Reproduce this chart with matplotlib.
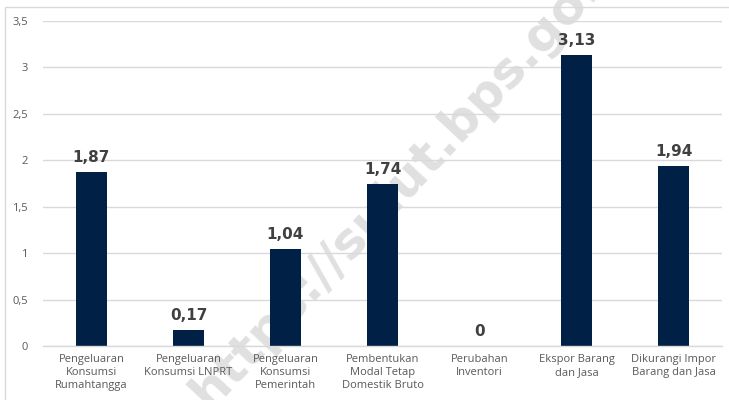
import matplotlib
matplotlib.use("Agg")
import matplotlib.pyplot as plt
from matplotlib.patches import Rectangle

categories = [
    "Pengeluaran\nKonsumsi\nRumahtangga",
    "Pengeluaran\nKonsumsi LNPRT",
    "Pengeluaran\nKonsumsi\nPemerintah",
    "Pembentukan\nModal Tetap\nDomestik Bruto",
    "Perubahan\nInventori",
    "Ekspor Barang\ndan Jasa",
    "Dikurangi Impor\nBarang dan Jasa",
]
values = [1.87, 0.17, 1.04, 1.74, 0.0, 3.13, 1.94]
yticks = [0, 0.5, 1, 1.5, 2, 2.5, 3, 3.5]
ytick_labels = ["0", "0,5", "1", "1,5", "2", "2,5", "3", "3,5"]
value_labels = ["1,87", "0,17", "1,04", "1,74", "0", "3,13", "1,94"]

bar_color = "#012046"
grid_color = "#d9d9d9"

fig = plt.figure(figsize=(7.29, 4.0), dpi=100)
ax = fig.add_axes([43 / 729, 54 / 400, (722 - 43) / 729, (346 - 21) / 400])
ax.patch.set_visible(False)

# outer frame of the chart area
fig.patches.append(Rectangle((5 / 729, -0.1), 1.2, (400 - 7) / 400 + 0.1,
                             transform=fig.transFigure, fill=False,
                             edgecolor=grid_color, linewidth=1.0))

# watermark, drawn beneath the axes content
fig.text(0.5675, 0.575, "https://sulut.bps.go.id",
         rotation=47, rotation_mode="anchor", ha="center", va="center",
         fontsize=36, fontweight="bold", color="#e0e0e0",
         family="DejaVu Sans", zorder=-1)

x = range(len(categories))
bars = ax.bar(x, values, width=0.31, color=bar_color, zorder=2)

for i, (v, lab) in enumerate(zip(values, value_labels)):
    ax.annotate(lab, (i, v), xytext=(0, 5), textcoords="offset points",
                ha="center", va="bottom", fontsize=11, fontweight="bold",
                color="#404040", family="DejaVu Sans", zorder=3)

ax.set_xlim(-0.5, len(categories) - 0.5)
ax.set_ylim(0, 3.5)
ax.set_yticks(yticks)
ax.set_yticklabels(ytick_labels, fontsize=8, color="#595959", family="Open Sans")
ax.set_xticks(list(x))
ax.set_xticklabels(categories, fontsize=8, color="#595959", family="Open Sans",
                   linespacing=1.25)
ax.tick_params(axis="both", length=0)
ax.tick_params(axis="y", pad=11)
ax.tick_params(axis="x", pad=6)

ax.yaxis.grid(True, color=grid_color, linewidth=1.0, zorder=0)
ax.set_axisbelow(True)
for side in ("top", "right", "left"):
    ax.spines[side].set_visible(False)
ax.spines["bottom"].set_color(grid_color)
ax.spines["bottom"].set_linewidth(1.0)

fig.savefig("out.png", dpi=100)
